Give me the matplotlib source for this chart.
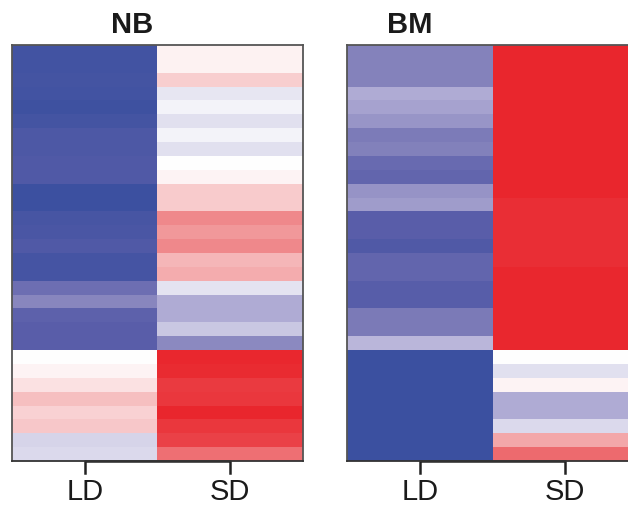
import matplotlib
matplotlib.use("Agg")
import matplotlib.pyplot as plt
import numpy as np
from matplotlib.colors import LinearSegmentedColormap

conditions = ['LD', 'SD']

# relative expression per gene (rows, top to bottom)
nb_ld = [-0.96, -0.96, -0.95, -0.96, -0.98, -0.95, -0.90, -0.90, -0.89, -0.89,
         -0.99, -0.99, -0.93, -0.92, -0.89, -0.94, -0.94, -0.74, -0.60, -0.82,
         -0.84, -0.84, 0.00, 0.05, 0.14, 0.29, 0.21, 0.25, -0.21, -0.18]
nb_sd = [0.06, 0.06, 0.22, -0.12, -0.06, -0.15, -0.06, -0.15, 0.00, 0.05,
         0.24, 0.24, 0.54, 0.47, 0.54, 0.33, 0.38, -0.14, -0.40, -0.40,
         -0.27, -0.58, 0.99, 0.97, 0.90, 0.92, 1.00, 0.92, 0.87, 0.66]
bm_ld = [-0.62, -0.62, -0.62, -0.40, -0.45, -0.52, -0.66, -0.63, -0.76, -0.79,
         -0.53, -0.48, -0.84, -0.84, -0.89, -0.79, -0.79, -0.85, -0.85, -0.67,
         -0.67, -0.35, -1.00, -1.00, -1.00, -1.00, -1.00, -1.00, -1.00, -1.00]
bm_sd = [1.00, 1.00, 1.00, 1.00, 1.00, 1.00, 1.00, 1.00, 1.00, 1.00,
         1.00, 0.96, 0.96, 0.96, 0.96, 0.96, 0.99, 0.99, 0.99, 0.99,
         0.99, 0.99, 0.00, -0.15, 0.05, -0.40, -0.40, -0.18, 0.40, 0.68]

# blue -> white -> red, with a slightly purple blue side
cmap = LinearSegmentedColormap.from_list('expr', [
    (0.00, '#3B50A0'),
    (0.08, '#5A5EAA'),
    (0.19, '#8583BC'),
    (0.30, '#B0ACD5'),
    (0.425, '#E2E1F0'),
    (0.50, '#FFFFFF'),
    (0.77, '#F08A8D'),
    (1.00, '#E9262D'),
])

W, H = 628, 506
fig = plt.figure(figsize=(W / 100, H / 100), dpi=100)
plt.rcParams['font.family'] = ['Liberation Sans', 'DejaVu Sans']

panels = [
    ('NB', nb_ld, nb_sd, 12, 132),
    ('BM', bm_ld, bm_sd, 347, 410),
]
top, bottom = 46, 462
width = 291

for name, ld, sd, left, title_x in panels:
    ax = fig.add_axes([left / W, 1 - bottom / H, width / W, (bottom - top) / H])
    data = np.column_stack([ld, sd])
    n = len(ld)
    ax.imshow(data, cmap=cmap, vmin=-1, vmax=1, aspect='auto', interpolation='nearest')
    ax.set_xticks([])
    ax.set_yticks([])
    for s in ax.spines.values():
        s.set_color('#555555')
        s.set_linewidth(1.3)
    ax.spines['bottom'].set_color('#333333')

    # column dendrogram bracket below the heatmap
    ax.plot([0, 0, 1, 1], [n - 0.5 + 0.9, n - 0.5, n - 0.5, n - 0.5 + 0.9],
            color='#222222', lw=1.8, clip_on=False)
    for i, c in enumerate(conditions):
        ax.text(i, n - 0.5 + 2.75, c, ha='center', va='baseline', fontsize=21, color='#1a1a1a')
    ax.set_xlim(-0.5, 1.5)
    ax.set_ylim(n - 0.5, -0.5)

    fig.text(title_x / W, 1 - 33 / H, name, ha='center', va='baseline',
             fontsize=21, fontweight='bold', color='#1a1a1a')

fig.savefig('out.png', dpi=100)
